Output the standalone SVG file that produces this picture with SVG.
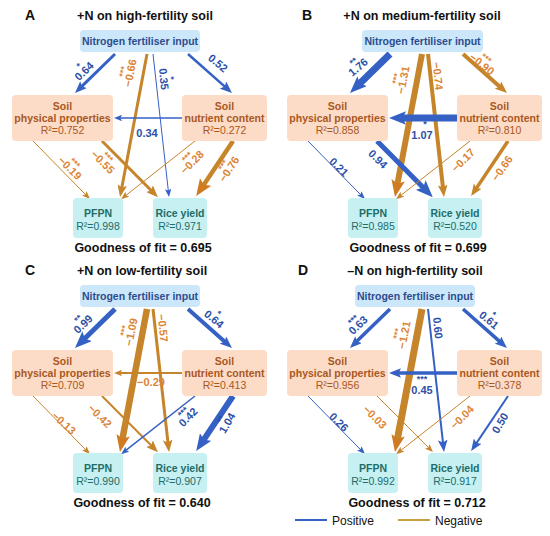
<svg xmlns="http://www.w3.org/2000/svg" width="550" height="536" viewBox="0 0 550 536">
<style>
text{font-family:"Liberation Sans",Arial,sans-serif}
.letter{font-size:14px;font-weight:bold;fill:#111}
.title{font-size:12.5px;font-weight:bold;fill:#111;text-anchor:middle}
.gof{font-size:12.5px;font-weight:bold;fill:#111;text-anchor:middle}
.nbox{fill:#cde7fa}
.ntxt{font-size:10.5px;font-weight:bold;fill:#2c4c8e;text-anchor:middle}
.sbox{fill:#fcdcc6}
.stb{font-size:10.5px;font-weight:bold;fill:#a9571f;text-anchor:middle}
.st{font-size:10.5px;fill:#a9571f;text-anchor:middle}
.obox{fill:#c6f0f2}
.otb{font-size:10.5px;font-weight:bold;fill:#1e6d69;text-anchor:middle}
.ot{font-size:10.5px;fill:#1e6d69;text-anchor:middle}
.pos{stroke:#3561c4;fill:none}
.neg{stroke:#c6852a;fill:none}
.lp{font-size:11px;font-weight:bold;fill:#2d50a8;text-anchor:middle}
.ln{font-size:11px;font-weight:bold;fill:#dc8535;text-anchor:middle}
.sp{font-size:9px;font-weight:bold;fill:#2d50a8;text-anchor:middle}
.sn{font-size:9px;font-weight:bold;fill:#dc8535;text-anchor:middle}
.leg{font-size:12px;fill:#111}
</style>
<defs>
<marker id="ps" viewBox="0 0 10 8" refX="3" refY="4" markerUnits="userSpaceOnUse" markerWidth="8" markerHeight="6.4" orient="auto"><path d="M0,0L10,4L0,8L2,4z" fill="#3561c4"/></marker>
<marker id="pm" viewBox="0 0 10 8" refX="3" refY="4" markerUnits="userSpaceOnUse" markerWidth="12" markerHeight="9.6" orient="auto"><path d="M0,0L10,4L0,8L2,4z" fill="#3561c4"/></marker>
<marker id="pl" viewBox="0 0 10 8" refX="3" refY="4" markerUnits="userSpaceOnUse" markerWidth="17" markerHeight="13.6" orient="auto"><path d="M0,0L10,4L0,8L2,4z" fill="#3561c4"/></marker>
<marker id="ns" viewBox="0 0 10 8" refX="3" refY="4" markerUnits="userSpaceOnUse" markerWidth="8" markerHeight="6.4" orient="auto"><path d="M0,0L10,4L0,8L2,4z" fill="#c6852a"/></marker>
<marker id="nm" viewBox="0 0 10 8" refX="3" refY="4" markerUnits="userSpaceOnUse" markerWidth="12" markerHeight="9.6" orient="auto"><path d="M0,0L10,4L0,8L2,4z" fill="#c6852a"/></marker>
<marker id="nl" viewBox="0 0 10 8" refX="3" refY="4" markerUnits="userSpaceOnUse" markerWidth="17" markerHeight="13.6" orient="auto"><path d="M0,0L10,4L0,8L2,4z" fill="#d07a22"/></marker>
</defs>
<rect width="550" height="536" fill="#ffffff"/>

<!-- Panel titles -->
<g id="titles">
<text class="letter" x="25" y="20">A</text>
<text class="title" x="145" y="20">+N on high-fertility soil</text>
<text class="letter" x="302" y="20">B</text>
<text class="title" x="422" y="20">+N on medium-fertility soil</text>
<text class="letter" x="25" y="275">C</text>
<text class="title" x="142" y="275">+N on low-fertility soil</text>
<text class="letter" x="298" y="275">D</text>
<text class="title" x="415" y="275">–N on high-fertility soil</text>
</g>

<!-- Connectors -->
<g id="connectors">
<g id="conn-A" transform="translate(0,0)">
<path class="pos" stroke-width="3" d="M115,54L81,87.1" marker-end="url(#pm)"/>
<path class="pos" stroke-width="2.5" d="M188,54L225.7,87.4" marker-end="url(#pm)"/>
<path class="neg" stroke-width="3" d="M147,54L121.6,188.7" marker-end="url(#nm)"/>
<path class="pos" stroke-width="1" d="M153,54L168.4,191.4" marker-end="url(#ps)"/>
<path class="pos" stroke-width="1.5" d="M182,118L119.6,118" marker-end="url(#ps)"/>
<path class="neg" stroke-width="1" d="M33,141L86,195.1" marker-end="url(#ns)"/>
<path class="neg" stroke-width="3" d="M102,141L152,191.2" marker-end="url(#nm)"/>
<path class="neg" stroke-width="1" d="M195,141L125.5,195.7" marker-end="url(#ns)"/>
<path class="neg" stroke-width="4.5" d="M233,141L202.8,186.2" marker-end="url(#nl)"/>
<g transform="translate(84,71) rotate(-44)"><text class="lp" y="4">0.64</text><text class="sp" y="-4">*</text></g>
<g transform="translate(218,63) rotate(40)"><text class="lp" y="4">0.52</text></g>
<g transform="translate(130,73) rotate(-79)"><text class="ln" y="4">−0.66</text><text class="sn" y="-4">***</text></g>
<g transform="translate(164,79) rotate(84)"><text class="lp" y="4">0.35</text><text class="sp" y="-4">*</text></g>
<text class="lp" x="147" y="137">0.34</text>
<g transform="translate(70,168) rotate(45)"><text class="ln" y="4">−0.19</text><text class="sn" y="-4">***</text></g>
<g transform="translate(103,162) rotate(45)"><text class="ln" y="4">−0.55</text><text class="sn" y="-4">***</text></g>
<g transform="translate(192,162) rotate(-45)"><text class="ln" y="4">−0.28</text><text class="sn" y="-4">***</text></g>
<g transform="translate(229,169) rotate(-57)"><text class="ln" y="4">−0.76</text><text class="sn" y="-4">***</text></g>
</g>
<g id="conn-B" transform="translate(275,0)">
<path class="pos" stroke-width="7" d="M115,54L83.5,84.7" marker-end="url(#pl)"/>
<path class="neg" stroke-width="4" d="M188,54L225.7,87.4" marker-end="url(#nm)"/>
<path class="neg" stroke-width="6" d="M147,54L122.2,185.3" marker-end="url(#nl)"/>
<path class="neg" stroke-width="4" d="M153,54L168.1,188.6" marker-end="url(#nm)"/>
<path class="pos" stroke-width="7" d="M182,118L125.9,118" marker-end="url(#pl)"/>
<path class="pos" stroke-width="1" d="M33,141L86,195.1" marker-end="url(#ps)"/>
<path class="pos" stroke-width="5" d="M102,141L149.4,188.7" marker-end="url(#pl)"/>
<path class="neg" stroke-width="1" d="M195,141L125.5,195.7" marker-end="url(#ns)"/>
<path class="neg" stroke-width="3.5" d="M233,141L200.8,189.1" marker-end="url(#nm)"/>
<g transform="translate(83,67) rotate(-40)"><text class="lp" y="4">1.76</text><text class="sp" y="-4">**</text></g>
<g transform="translate(207,64) rotate(38)"><text class="ln" y="4">−0.90</text><text class="sn" y="-4">***</text></g>
<g transform="translate(128,80) rotate(-79)"><text class="ln" y="4">−1.31</text><text class="sn" y="-4">***</text></g>
<g transform="translate(163,76) rotate(84)"><text class="ln" y="4">−0.74</text></g>
<text class="lp" x="147" y="139">1.07</text><text class="sp" x="150" y="127">*</text>
<g transform="translate(64,167) rotate(45)"><text class="lp" y="4">0.21</text></g>
<g transform="translate(103,159) rotate(45)"><text class="lp" y="4">0.94</text></g>
<g transform="translate(188,160) rotate(-45)"><text class="ln" y="4">−0.17</text></g>
<g transform="translate(227,168) rotate(-55)"><text class="ln" y="4">−0.66</text></g>
</g>
<g id="conn-C" transform="translate(0,255)">
<path class="pos" stroke-width="5" d="M115,54L83.5,84.7" marker-end="url(#pl)"/>
<path class="pos" stroke-width="4" d="M188,54L225.7,87.4" marker-end="url(#pm)"/>
<path class="neg" stroke-width="6.5" d="M147,54L122.2,185.3" marker-end="url(#nl)"/>
<path class="neg" stroke-width="3" d="M153,54L168.1,188.6" marker-end="url(#nm)"/>
<path class="neg" stroke-width="2" d="M182,118L119.6,118" marker-end="url(#ns)"/>
<path class="neg" stroke-width="1" d="M33,141L86,195.1" marker-end="url(#ns)"/>
<path class="neg" stroke-width="2" d="M102,141L152,191.2" marker-end="url(#nm)"/>
<path class="pos" stroke-width="1.5" d="M195,141L125.5,195.7" marker-end="url(#ps)"/>
<path class="pos" stroke-width="6" d="M233,141L202.8,186.2" marker-end="url(#pl)"/>
<g transform="translate(83,69) rotate(-44)"><text class="lp" y="4">0.99</text><text class="sp" y="-4">**</text></g>
<g transform="translate(214,64) rotate(40)"><text class="lp" y="4">0.64</text><text class="sp" y="-4">*</text></g>
<g transform="translate(131,77) rotate(-79)"><text class="ln" y="4">−1.09</text><text class="sn" y="-4">***</text></g>
<g transform="translate(163,73) rotate(84)"><text class="ln" y="4">−0.57</text></g>
<text class="ln" x="151" y="131">−0.29</text>
<g transform="translate(64,168) rotate(42)"><text class="ln" y="4">−0.13</text></g>
<g transform="translate(100,161) rotate(45)"><text class="ln" y="4">−0.42</text></g>
<g transform="translate(188,162) rotate(-45)"><text class="lp" y="4">0.42</text><text class="sp" y="-4">***</text></g>
<g transform="translate(227,168) rotate(-60)"><text class="lp" y="4">1.04</text><text class="sp" y="-4">**</text></g>
</g>
<g id="conn-D" transform="translate(275,255)">
<path class="pos" stroke-width="3.5" d="M115,54L81,87.1" marker-end="url(#pm)"/>
<path class="pos" stroke-width="3.5" d="M188,54L225.7,87.4" marker-end="url(#pm)"/>
<path class="neg" stroke-width="7" d="M147,54L122.2,185.3" marker-end="url(#nl)"/>
<path class="pos" stroke-width="2" d="M153,54L168.1,188.6" marker-end="url(#pm)"/>
<path class="pos" stroke-width="3.5" d="M182,118L122.4,118" marker-end="url(#pm)"/>
<path class="pos" stroke-width="1" d="M33,141L86,195.1" marker-end="url(#ps)"/>
<path class="neg" stroke-width="1" d="M102,141L154,193.1" marker-end="url(#ns)"/>
<path class="neg" stroke-width="1" d="M195,141L125.5,195.7" marker-end="url(#ns)"/>
<path class="pos" stroke-width="2" d="M233,141L200.8,189.1" marker-end="url(#pm)"/>
<g transform="translate(83,70) rotate(-44)"><text class="lp" y="4">0.63</text><text class="sp" y="-4">***</text></g>
<g transform="translate(214,65) rotate(40)"><text class="lp" y="4">0.61</text><text class="sp" y="-4">*</text></g>
<g transform="translate(129,80) rotate(-79)"><text class="ln" y="4">−1.21</text><text class="sn" y="-4">***</text></g>
<g transform="translate(163,73) rotate(84)"><text class="lp" y="4">0.60</text></g>
<text class="lp" x="147" y="139">0.45</text><text class="sp" x="147" y="127">***</text>
<g transform="translate(64,167) rotate(45)"><text class="lp" y="4">0.26</text></g>
<g transform="translate(100,162) rotate(45)"><text class="ln" y="4">−0.03</text></g>
<g transform="translate(187,162) rotate(-45)"><text class="ln" y="4">−0.04</text></g>
<g transform="translate(225,168) rotate(-60)"><text class="lp" y="4">0.50</text></g>
</g>
</g>

<!-- Panel A nodes -->
<g transform="translate(0,0)">
<g id="A-nitrogen"><rect class="nbox" x="80" y="30" width="120" height="22" rx="4"/><text class="ntxt" x="140" y="45">Nitrogen fertiliser input</text></g>
<g id="A-physical"><rect class="sbox" x="12" y="95" width="101" height="46" rx="4"/><text class="stb" x="62.5" y="110">Soil</text><text class="stb" x="62.5" y="122">physical properties</text><text class="st" x="62.5" y="134">R²=0.752</text></g>
<g id="A-nutrient"><rect class="sbox" x="182" y="95" width="85" height="46" rx="4"/><text class="stb" x="224.5" y="110">Soil</text><text class="stb" x="224.5" y="122">nutrient content</text><text class="st" x="224.5" y="134">R²=0.272</text></g>
<g id="A-pfpn"><rect class="obox" x="73" y="198" width="50" height="40" rx="4"/><text class="otb" x="98" y="217">PFPN</text><text class="ot" x="98" y="230">R²=0.998</text></g>
<g id="A-rice"><rect class="obox" x="153" y="198" width="54" height="40" rx="4"/><text class="otb" x="180" y="217">Rice yield</text><text class="ot" x="180" y="230">R²=0.971</text></g>
<text class="gof" x="143" y="252">Goodness of fit = 0.695</text>
</g>

<!-- Panel B nodes -->
<g transform="translate(275,0)">
<g id="B-nitrogen"><rect class="nbox" x="87" y="30" width="121" height="22" rx="4"/><text class="ntxt" x="147.5" y="45">Nitrogen fertiliser input</text></g>
<g id="B-physical"><rect class="sbox" x="12" y="95" width="101" height="46" rx="4"/><text class="stb" x="62.5" y="110">Soil</text><text class="stb" x="62.5" y="122">physical properties</text><text class="st" x="62.5" y="134">R²=0.858</text></g>
<g id="B-nutrient"><rect class="sbox" x="182" y="95" width="85" height="46" rx="4"/><text class="stb" x="224.5" y="110">Soil</text><text class="stb" x="224.5" y="122">nutrient content</text><text class="st" x="224.5" y="134">R²=0.810</text></g>
<g id="B-pfpn"><rect class="obox" x="73" y="198" width="50" height="40" rx="4"/><text class="otb" x="98" y="217">PFPN</text><text class="ot" x="98" y="230">R²=0.985</text></g>
<g id="B-rice"><rect class="obox" x="153" y="198" width="54" height="40" rx="4"/><text class="otb" x="180" y="217">Rice yield</text><text class="ot" x="180" y="230">R²=0.520</text></g>
<text class="gof" x="143" y="252">Goodness of fit = 0.699</text>
</g>

<!-- Panel C nodes -->
<g transform="translate(0,255)">
<g id="C-nitrogen"><rect class="nbox" x="80" y="30" width="120" height="22" rx="4"/><text class="ntxt" x="140" y="45">Nitrogen fertiliser input</text></g>
<g id="C-physical"><rect class="sbox" x="12" y="95" width="101" height="46" rx="4"/><text class="stb" x="62.5" y="110">Soil</text><text class="stb" x="62.5" y="122">physical properties</text><text class="st" x="62.5" y="134">R²=0.709</text></g>
<g id="C-nutrient"><rect class="sbox" x="182" y="95" width="85" height="46" rx="4"/><text class="stb" x="224.5" y="110">Soil</text><text class="stb" x="224.5" y="122">nutrient content</text><text class="st" x="224.5" y="134">R²=0.413</text></g>
<g id="C-pfpn"><rect class="obox" x="73" y="198" width="50" height="40" rx="4"/><text class="otb" x="98" y="217">PFPN</text><text class="ot" x="98" y="230">R²=0.990</text></g>
<g id="C-rice"><rect class="obox" x="153" y="198" width="54" height="40" rx="4"/><text class="otb" x="180" y="217">Rice yield</text><text class="ot" x="180" y="230">R²=0.907</text></g>
<text class="gof" x="142" y="252">Goodness of fit = 0.640</text>
</g>

<!-- Panel D nodes -->
<g transform="translate(275,255)">
<g id="D-nitrogen"><rect class="nbox" x="80" y="30" width="120" height="22" rx="4"/><text class="ntxt" x="140" y="45">Nitrogen fertiliser input</text></g>
<g id="D-physical"><rect class="sbox" x="12" y="95" width="101" height="46" rx="4"/><text class="stb" x="62.5" y="110">Soil</text><text class="stb" x="62.5" y="122">physical properties</text><text class="st" x="62.5" y="134">R²=0.956</text></g>
<g id="D-nutrient"><rect class="sbox" x="182" y="95" width="85" height="46" rx="4"/><text class="stb" x="224.5" y="110">Soil</text><text class="stb" x="224.5" y="122">nutrient content</text><text class="st" x="224.5" y="134">R²=0.378</text></g>
<g id="D-pfpn"><rect class="obox" x="73" y="198" width="50" height="40" rx="4"/><text class="otb" x="98" y="217">PFPN</text><text class="ot" x="98" y="230">R²=0.992</text></g>
<g id="D-rice"><rect class="obox" x="153" y="198" width="54" height="40" rx="4"/><text class="otb" x="180" y="217">Rice yield</text><text class="ot" x="180" y="230">R²=0.917</text></g>
<text class="gof" x="142" y="252">Goodness of fit = 0.712</text>
</g>

<!-- Legend -->
<g id="legend">
<line x1="295" y1="520" x2="327" y2="520" stroke="#3561c4" stroke-width="2"/>
<text class="leg" x="332" y="525">Positive</text>
<line x1="398" y1="520" x2="430" y2="520" stroke="#c9a13f" stroke-width="2"/>
<text class="leg" x="435" y="525">Negative</text>
</g>
</svg>
